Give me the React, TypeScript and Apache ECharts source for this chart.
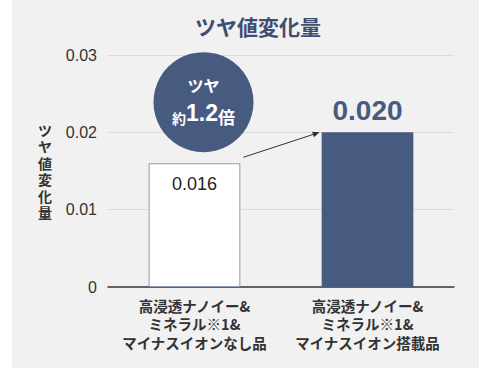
import React, { useEffect, useRef } from "react";
import * as echarts from "echarts";

const categories = [
  "高浸透ナノイー&\nミネラル※1&\nマイナスイオンなし品",
  "高浸透ナノイー&\nミネラル※1&\nマイナスイオン搭載品",
];
const values = [0.016, 0.02];
const yTicks = [0, 0.01, 0.02, 0.03];
const titleText = "ツヤ値変化量";
const yAxisName = "ツヤ値変化量";
const badgeLine1 = "ツヤ";
const badgeRatio = "1.2";

const NAVY = "#475a80";
const FONT = "'Liberation Sans', 'Noto Sans CJK JP', sans-serif";
const JP = "'Noto Sans CJK JP', 'Liberation Sans', sans-serif";

export default function App() {
  const ref = useRef<HTMLDivElement>(null);
  useEffect(() => {
    if (!ref.current) return;
    const chart = echarts.init(ref.current, null, { renderer: "svg" });
    const option: any = {
      animation: false,
      backgroundColor: "#ffffff",
      title: {
        text: titleText,
        left: 253,
        top: 10,
        textAlign: "center",
        textStyle: { fontFamily: JP, fontSize: 21, fontWeight: "bold", color: "#3e4e72" },
      },
      grid: { left: 108, right: 36, top: 55, bottom: 81 },
      xAxis: {
        type: "category",
        data: categories,
        axisLine: { lineStyle: { color: "#3a3a3a", width: 1.5 } },
        axisTick: { show: false },
        axisLabel: {
          fontFamily: JP,
          fontSize: 14.5,
          fontWeight: "bold",
          color: "#333",
          lineHeight: 18.5,
          margin: 9,
          interval: 0,
        },
      },
      yAxis: {
        type: "value",
        min: yTicks[0],
        max: yTicks[yTicks.length - 1],
        interval: 0.01,
        axisLine: { show: false },
        axisTick: { show: false },
        axisLabel: {
          fontFamily: FONT,
          fontSize: 16,
          color: "#333",
          margin: 11,
          formatter: (v: number) => (v === 0 ? "0" : v.toFixed(2)),
        },
        splitLine: { lineStyle: { color: "#dcdcdc", width: 1 } },
      },
      series: [
        {
          type: "bar",
          barWidth: "53%",
          data: [
            {
              value: values[0],
              itemStyle: { color: "#ffffff", borderColor: "#8d9bb5", borderWidth: 1 },
              label: {
                show: true,
                position: "insideTop",
                distance: 12,
                fontFamily: FONT,
                fontSize: 18,
                color: "#222",
                formatter: (p: any) => p.value.toFixed(3),
              },
            },
            {
              value: values[1],
              itemStyle: { color: NAVY },
              label: {
                show: true,
                position: "top",
                distance: 8,
                fontFamily: FONT,
                fontSize: 28,
                fontWeight: "bold",
                color: NAVY,
                formatter: (p: any) => p.value.toFixed(3),
              },
            },
          ],
        },
      ],
    };
    chart.setOption(option);

    const c0 = chart.convertToPixel({ seriesIndex: 0 }, [0, values[0]]) as number[];
    const c1 = chart.convertToPixel({ seriesIndex: 0 }, [1, values[1]]) as number[];
    const band = (c1[0] - c0[0]);
    const halfBar = (band * 0.53) / 2;
    const start = [c0[0] + halfBar + 3, c0[1] - 6];
    const end = [c1[0] - halfBar - 2, c1[1]];
    const ang = Math.atan2(end[1] - start[1], end[0] - start[0]);
    const ah = 7, aw = 3;
    const bx = end[0] - ah * Math.cos(ang), by = end[1] - ah * Math.sin(ang);
    const px = -Math.sin(ang) * aw, py = Math.cos(ang) * aw;
    const badgeTop = chart.convertToPixel({ yAxisIndex: 0 }, 0.0239) as number;
    const cx = c0[0] + 9;
    const cy = badgeTop;

    const yTop = chart.convertToPixel({ yAxisIndex: 0 }, yTicks[yTicks.length - 1]) as number;
    const yBot = chart.convertToPixel({ yAxisIndex: 0 }, yTicks[0]) as number;
    const nameMid = (yTop + yBot) / 2;
    const chars = yAxisName.split("");
    const pitch = 16.5;
    const nameTexts = chars.map((ch, i) => ({
      type: "text",
      x: 45,
      y: nameMid + (i - (chars.length - 1) / 2) * pitch,
      style: {
        text: ch,
        fill: "#333",
        fontFamily: JP,
        fontSize: 14,
        fontWeight: "bold",
        align: "center",
        verticalAlign: "middle",
      },
    }));

    chart.setOption({
      graphic: [
        {
          type: "rect",
          z: -10,
          silent: true,
          shape: { x: 12, y: 0, width: 467, height: 368 },
          style: { fill: "#f1f1f1" },
        },
        ...nameTexts,
        {
          type: "line",
          shape: { x1: start[0], y1: start[1], x2: bx, y2: by },
          style: { stroke: "#333", lineWidth: 1 },
        },
        {
          type: "polygon",
          shape: { points: [[end[0], end[1]], [bx + px, by + py], [bx - px, by - py]] },
          style: { fill: "#333" },
        },
        {
          type: "circle",
          shape: { cx, cy, r: 50 },
          style: { fill: NAVY },
        },
        {
          type: "text",
          x: cx,
          y: cy - 17,
          style: {
            text: badgeLine1,
            fill: "#fff",
            fontFamily: JP,
            fontSize: 16,
            fontWeight: "bold",
            align: "center",
            verticalAlign: "middle",
          },
        },
        {
          type: "text",
          x: cx,
          y: cy + 11,
          style: {
            text: "{a|約}{b|" + badgeRatio + "}{c|倍}",
            align: "center",
            verticalAlign: "middle",
            rich: {
              a: { fill: "#fff", fontFamily: JP, fontSize: 14, fontWeight: "bold", verticalAlign: "bottom" },
              b: { fill: "#fff", fontFamily: FONT, fontSize: 23, fontWeight: "bold", verticalAlign: "bottom" },
              c: { fill: "#fff", fontFamily: JP, fontSize: 17, fontWeight: "bold", verticalAlign: "bottom" },
            },
          },
        },
      ],
    });
    return () => chart.dispose();
  }, []);
  return (
    <div
      ref={ref}
      style={{ position: "fixed", left: 0, top: 0, width: 490, height: 368 }}
    />
  );
}
